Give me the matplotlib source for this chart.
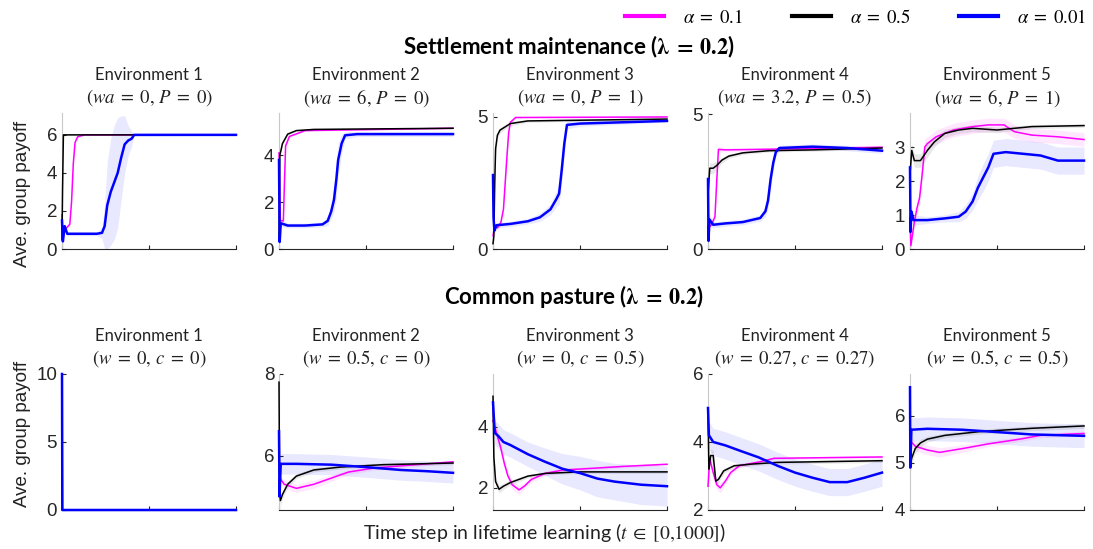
import numpy as np
import matplotlib.pyplot as plt
from matplotlib.lines import Line2D

plt.rcParams['mathtext.fontset'] = 'stix'
plt.rcParams['font.family'] = ['Lato', 'DejaVu Sans']

# each series: (time step, mean payoff, spread of the shaded band)
# --- Settlement maintenance (top row)
SM1_MAG = [(0, 1.8, 0.2), (5, 0.5, 0.2), (15, 1.0, 0.1), (45, 1.3, 0.1), (55, 2.5, 0.2), (65, 4.5, 0.15),
           (75, 5.6, 0.1), (90, 5.9, 0.05), (130, 6.0, 0.02), (1000, 6.0, 0.02)]
SM1_BLK = [(0, 0.5, 0.1), (3, 3.0, 0.1), (8, 6.0, 0.02), (1000, 6.0, 0.02)]
SM1_BLU = [(0, 1.5, 0.3), (5, 0.4, 0.3), (15, 1.2, 0.2), (30, 0.8, 0.1), (100, 0.8, 0.1), (200, 0.8, 0.1),
           (230, 0.85, 0.3), (245, 1.2, 1.2), (260, 2.3, 2.3), (280, 3.0, 2.8), (300, 3.5, 3.0), (320, 4.0, 2.9),
           (340, 4.8, 2.2), (360, 5.5, 1.5), (380, 5.7, 0.8), (400, 5.8, 0.4), (415, 6.0, 0.05), (1000, 6.0, 0.02)]

SM2_MAG = [(0, 4.1, 0.1), (8, 1.2, 0.1), (25, 1.2, 0.1), (32, 3.0, 0.2), (38, 4.4, 0.1), (60, 4.8, 0.05),
           (150, 5.05, 0.03), (1000, 5.15, 0.03)]
SM2_BLK = [(0, 0.5, 0.1), (5, 4.0, 0.1), (20, 4.5, 0.05), (50, 4.9, 0.05), (100, 5.05, 0.03), (200, 5.1, 0.03),
           (1000, 5.15, 0.03)]
SM2_BLU = [(0, 3.8, 0.3), (4, 0.3, 0.3), (10, 1.1, 0.15), (50, 1.0, 0.1), (150, 1.0, 0.1), (250, 1.05, 0.1),
           (280, 1.2, 0.2), (300, 1.6, 0.3), (316, 2.1, 0.5), (330, 3.0, 0.8), (340, 3.8, 0.7), (360, 4.5, 0.4),
           (380, 4.85, 0.15), (450, 4.9, 0.1), (1000, 4.9, 0.1)]

SM3_MAG = [(0, 0.5, 0.1), (10, 0.9, 0.1), (25, 0.8, 0.1), (45, 1.0, 0.1), (60, 1.5, 0.15), (70, 2.5, 0.2),
           (80, 3.5, 0.2), (90, 4.4, 0.1), (100, 4.8, 0.05), (130, 4.98, 0.03), (1000, 5.0, 0.03)]
SM3_BLK = [(0, 0.2, 0.1), (5, 0.5, 0.2), (10, 2.5, 0.3), (15, 3.8, 0.2), (25, 4.3, 0.15), (40, 4.5, 0.1),
           (100, 4.75, 0.08), (200, 4.85, 0.05), (1000, 4.92, 0.03)]
SM3_BLU = [(0, 2.8, 0.3), (3, 1.2, 0.3), (8, 0.7, 0.2), (20, 0.9, 0.1), (100, 0.95, 0.1), (200, 1.05, 0.1),
           (270, 1.2, 0.15), (330, 1.5, 0.2), (365, 1.9, 0.3), (380, 2.1, 0.4), (395, 3.0, 0.5), (410, 4.0, 0.4),
           (425, 4.7, 0.15), (500, 4.75, 0.1), (1000, 4.85, 0.05)]

SM4_MAG = [(0, 1.5, 0.2), (5, 0.8, 0.2), (20, 0.9, 0.1), (40, 1.2, 0.1), (50, 2.5, 0.3), (60, 3.7, 0.1),
           (100, 3.68, 0.08), (300, 3.7, 0.06), (1000, 3.78, 0.05)]
SM4_BLK = [(0, 2.0, 0.3), (5, 2.5, 0.3), (10, 3.0, 0.2), (30, 3.0, 0.2), (50, 3.1, 0.15), (80, 3.3, 0.1),
           (120, 3.45, 0.08), (200, 3.57, 0.06), (350, 3.65, 0.05), (600, 3.68, 0.05), (1000, 3.75, 0.05)]
SM4_BLU = [(0, 2.6, 0.3), (3, 0.3, 0.3), (8, 1.1, 0.2), (30, 0.9, 0.12), (100, 0.95, 0.1), (200, 1.0, 0.1),
           (300, 1.15, 0.12), (330, 1.4, 0.2), (345, 1.8, 0.3), (360, 2.6, 0.4), (375, 3.2, 0.3), (390, 3.6, 0.15),
           (410, 3.75, 0.1), (600, 3.8, 0.1), (800, 3.75, 0.1), (1000, 3.65, 0.1)]

SM5_MAG = [(0, 0.8, 0.2), (5, 0.1, 0.1), (25, 0.8, 0.15), (40, 1.2, 0.2), (55, 1.5, 0.2), (70, 2.2, 0.25),
           (85, 3.0, 0.25), (100, 3.1, 0.2), (150, 3.3, 0.2), (250, 3.5, 0.2), (360, 3.6, 0.2), (450, 3.65, 0.2),
           (540, 3.65, 0.2), (600, 3.45, 0.2), (700, 3.35, 0.2), (850, 3.3, 0.2), (1000, 3.22, 0.2)]
SM5_BLK = [(0, 2.2, 0.3), (10, 2.9, 0.2), (25, 2.6, 0.2), (60, 2.6, 0.2), (100, 2.9, 0.2), (140, 3.15, 0.15),
           (200, 3.4, 0.12), (280, 3.5, 0.1), (360, 3.55, 0.1), (500, 3.5, 0.08), (700, 3.6, 0.06),
           (1000, 3.63, 0.05)]
SM5_BLU = [(0, 2.4, 0.3), (3, 0.5, 0.3), (8, 1.1, 0.2), (20, 0.85, 0.15), (100, 0.85, 0.1), (200, 0.9, 0.1),
           (280, 0.95, 0.15), (320, 1.1, 0.2), (360, 1.4, 0.25), (390, 1.8, 0.35), (420, 2.1, 0.4), (450, 2.4, 0.4),
           (480, 2.8, 0.4), (550, 2.85, 0.4), (650, 2.8, 0.4), (750, 2.75, 0.4), (850, 2.6, 0.4), (1000, 2.6, 0.4)]

# --- Common pasture (bottom row)
CP1_MAG = [(0, 10, 0), (1, 0, 0), (1000, 0, 0)]
CP1_BLK = [(0, 10, 0), (2, 0, 0), (1000, 0, 0)]
CP1_BLU = [(0, 10, 0), (1, 5, 0), (2, 0, 0), (1000, 0, 0)]

CP2_MAG = [(0, 5.0, 0.1), (5, 5.45, 0.1), (30, 5.3, 0.1), (100, 5.2, 0.1), (200, 5.3, 0.1), (300, 5.45, 0.08),
           (400, 5.6, 0.06), (550, 5.7, 0.05), (700, 5.75, 0.05), (1000, 5.85, 0.04)]
CP2_BLK = [(0, 7.8, 0.2), (3, 5.5, 0.2), (8, 4.9, 0.15), (20, 5.05, 0.1), (50, 5.3, 0.08), (100, 5.5, 0.06),
           (200, 5.65, 0.05), (350, 5.72, 0.05), (600, 5.78, 0.04), (1000, 5.82, 0.04)]
CP2_BLU = [(0, 6.6, 0.3), (3, 5.0, 0.3), (10, 5.8, 0.25), (100, 5.8, 0.25), (300, 5.78, 0.25), (500, 5.72, 0.25),
           (700, 5.65, 0.25), (850, 5.62, 0.25), (1000, 5.58, 0.25)]

CP3_MAG = [(0, 4.2, 0.3), (20, 3.8, 0.25), (45, 3.3, 0.2), (65, 2.8, 0.15), (85, 2.4, 0.15), (110, 2.1, 0.15),
           (150, 1.93, 0.15), (180, 2.05, 0.1), (220, 2.27, 0.1), (300, 2.47, 0.08), (400, 2.58, 0.06),
           (550, 2.63, 0.05), (750, 2.7, 0.05), (1000, 2.77, 0.05)]
CP3_BLK = [(0, 5.0, 0.2), (5, 3.0, 0.2), (15, 2.2, 0.15), (35, 1.95, 0.12), (60, 2.05, 0.1), (100, 2.17, 0.08),
           (200, 2.38, 0.06), (300, 2.47, 0.05), (500, 2.52, 0.05), (1000, 2.52, 0.05)]
CP3_BLU = [(0, 4.8, 0.4), (10, 3.8, 0.4), (30, 3.7, 0.4), (60, 3.5, 0.4), (100, 3.4, 0.4), (150, 3.25, 0.4),
           (200, 3.1, 0.4), (300, 2.85, 0.45), (400, 2.62, 0.5), (500, 2.48, 0.55), (600, 2.3, 0.6),
           (700, 2.2, 0.6), (850, 2.1, 0.65), (1000, 2.05, 0.65)]

CP4_MAG = [(0, 2.7, 0.2), (10, 3.5, 0.2), (30, 3.1, 0.2), (50, 2.75, 0.15), (70, 2.65, 0.15), (100, 2.85, 0.1),
           (130, 3.1, 0.08), (180, 3.3, 0.06), (300, 3.42, 0.05), (380, 3.52, 0.04), (1000, 3.56, 0.04)]
CP4_BLK = [(0, 5.0, 0.2), (5, 3.2, 0.2), (15, 3.6, 0.2), (30, 3.6, 0.15), (45, 2.85, 0.1), (60, 2.9, 0.1),
           (90, 3.15, 0.08), (150, 3.3, 0.06), (250, 3.35, 0.05), (400, 3.4, 0.05), (1000, 3.45, 0.05)]
CP4_BLU = [(0, 5.0, 0.4), (5, 4.2, 0.4), (30, 4.0, 0.4), (100, 3.9, 0.4), (180, 3.75, 0.4), (290, 3.55, 0.4),
           (400, 3.3, 0.4), (500, 3.1, 0.4), (600, 2.95, 0.4), (700, 2.82, 0.4), (800, 2.82, 0.4),
           (900, 2.95, 0.4), (1000, 3.1, 0.4)]

CP5_MAG = [(0, 5.0, 0.1), (5, 5.45, 0.1), (30, 5.35, 0.1), (100, 5.27, 0.1), (170, 5.22, 0.1), (300, 5.3, 0.08),
           (450, 5.4, 0.06), (630, 5.5, 0.05), (750, 5.58, 0.05), (1000, 5.62, 0.05)]
CP5_BLK = [(0, 4.9, 0.15), (10, 5.1, 0.12), (30, 5.3, 0.1), (60, 5.42, 0.08), (100, 5.5, 0.06), (200, 5.58, 0.05),
           (400, 5.66, 0.05), (700, 5.73, 0.05), (1000, 5.78, 0.05)]
CP5_BLU = [(0, 6.6, 0.3), (2, 4.9, 0.3), (8, 5.7, 0.25), (100, 5.72, 0.25), (300, 5.7, 0.25), (500, 5.65, 0.25),
           (700, 5.6, 0.25), (900, 5.58, 0.25), (1000, 5.57, 0.25)]

TOP_SERIES = [(SM1_MAG, SM1_BLK, SM1_BLU), (SM2_MAG, SM2_BLK, SM2_BLU), (SM3_MAG, SM3_BLK, SM3_BLU),
              (SM4_MAG, SM4_BLK, SM4_BLU), (SM5_MAG, SM5_BLK, SM5_BLU)]
BOT_SERIES = [(CP1_MAG, CP1_BLK, CP1_BLU), (CP2_MAG, CP2_BLK, CP2_BLU), (CP3_MAG, CP3_BLK, CP3_BLU),
              (CP4_MAG, CP4_BLK, CP4_BLU), (CP5_MAG, CP5_BLK, CP5_BLU)]

ENV_NAMES = ["Environment 1", "Environment 2", "Environment 3", "Environment 4", "Environment 5"]
TOP_PARAMS = [r"$(wa\;=\;0,\,P\;=\;0)$", r"$(wa\;=\;6,\,P\;=\;0)$", r"$(wa\;=\;0,\,P\;=\;1)$",
              r"$(wa\;=\;3.2,\,P\;=\;0.5)$", r"$(wa\;=\;6,\,P\;=\;1)$"]
BOT_PARAMS = [r"$(w\;=\;0,\,c\;=\;0)$", r"$(w\;=\;0.5,\,c\;=\;0)$", r"$(w\;=\;0,\,c\;=\;0.5)$",
              r"$(w\;=\;0.27,\,c\;=\;0.27)$", r"$(w\;=\;0.5,\,c\;=\;0.5)$"]
TOP_YLIM = [(0, 7.15), (0, 5.8), (0, 5.15), (0, 5.05), (0, 4.0)]
TOP_YTICKS = [[0, 2, 4, 6], [0, 2, 4], [0, 5], [0, 5], [0, 1, 2, 3]]
BOT_YLIM = [(0, 10), (4.67, 8), (1.27, 5.73), (2, 6), (4, 6.88)]
BOT_YTICKS = [[0, 5, 10], [6, 8], [2, 4], [2, 4, 6], [4, 5, 6]]
ALPHA_LABELS = [r"$\alpha\;=\;0.1$", r"$\alpha\;=\;0.5$", r"$\alpha\;=\;0.01$"]
COLORS = ["#ff00ff", "#000000", "#0000ff"]
LINE_W = [1.1, 1.1, 1.8]

W, H = 1093, 549
PANEL_LEFT = [62, 279, 493, 708, 910]
PANEL_W = 174


def draw_panel(ax, series, ylim, yticks, name, params):
    for data, color, lw in zip(series, COLORS, LINE_W):
        arr = np.array(data, dtype=float)
        t, m, s = arr[:, 0], arr[:, 1], arr[:, 2]
        ax.fill_between(t, m - s, m + s, color=color, alpha=0.09, lw=0)
        ax.plot(t, m, color=color, lw=lw, zorder=3, clip_on=False)
    ax.set_xlim(0, 1000)
    ax.set_ylim(*ylim)
    ax.set_xticks([0, 500, 1000])
    ax.set_xticklabels([])
    ax.set_yticks(yticks)
    ax.tick_params(direction="in", length=3, width=0.8, colors="#262626", labelsize=13.5)
    for lab in ax.get_yticklabels():
        lab.set_fontfamily("Liberation Sans")
    for side in ("top", "right"):
        ax.spines[side].set_visible(False)
    ax.spines["left"].set_color("#c8c8c8")
    ax.spines["bottom"].set_color("#262626")
    ax.text(0.5, 1.0 + 38 / 136, name, transform=ax.transAxes, ha="center", va="center",
            fontsize=12, color="#222222")
    ax.text(0.5, 1.0 + 15 / 136, params, transform=ax.transAxes, ha="center", va="center",
            fontsize=13.5, color="#222222")


fig = plt.figure(figsize=(W / 100, H / 100), dpi=100)

rows = [(249, TOP_SERIES, TOP_YLIM, TOP_YTICKS, TOP_PARAMS, 194),
        (510, BOT_SERIES, BOT_YLIM, BOT_YTICKS, BOT_PARAMS, 434)]
for bottom_px, series_row, ylims, yticks, params, lab_px in rows:
    for i in range(5):
        ax = fig.add_axes([PANEL_LEFT[i] / W, 1 - bottom_px / H, PANEL_W / W, 136 / H])
        draw_panel(ax, series_row[i], ylims[i], yticks[i], ENV_NAMES[i], params[i])
    fig.text(23 / W, 1 - lab_px / H, "Ave. group payoff", rotation=90, ha="center", va="center",
             fontsize=13.5, family="Liberation Sans", color="#222222")

fig.text(0.5205, 1 - 47 / H, r"Settlement maintenance ($\boldsymbol{\lambda\;=\;0.2}$)",
         ha="center", va="center", fontsize=16, fontweight="bold")
fig.text(0.525, 1 - 297 / H, r"Common pasture ($\boldsymbol{\lambda\;=\;0.2}$)",
         ha="center", va="center", fontsize=16, fontweight="bold")
fig.text(0.498, 1 - 533 / H, r"Time step in lifetime learning ($t\;\in\;[0{,}1000]$)",
         ha="center", va="center", fontsize=14, color="#222222")

handles = [Line2D([], [], color=c, lw=3) for c in COLORS]
fig.legend(handles, ALPHA_LABELS, loc="upper right", bbox_to_anchor=(1.009, 1.017), ncol=3,
           frameon=False, fontsize=13.5, handlelength=2.1, columnspacing=2.6, handletextpad=1.0)

fig.savefig("out.png", dpi=100)
plt.close(fig)
